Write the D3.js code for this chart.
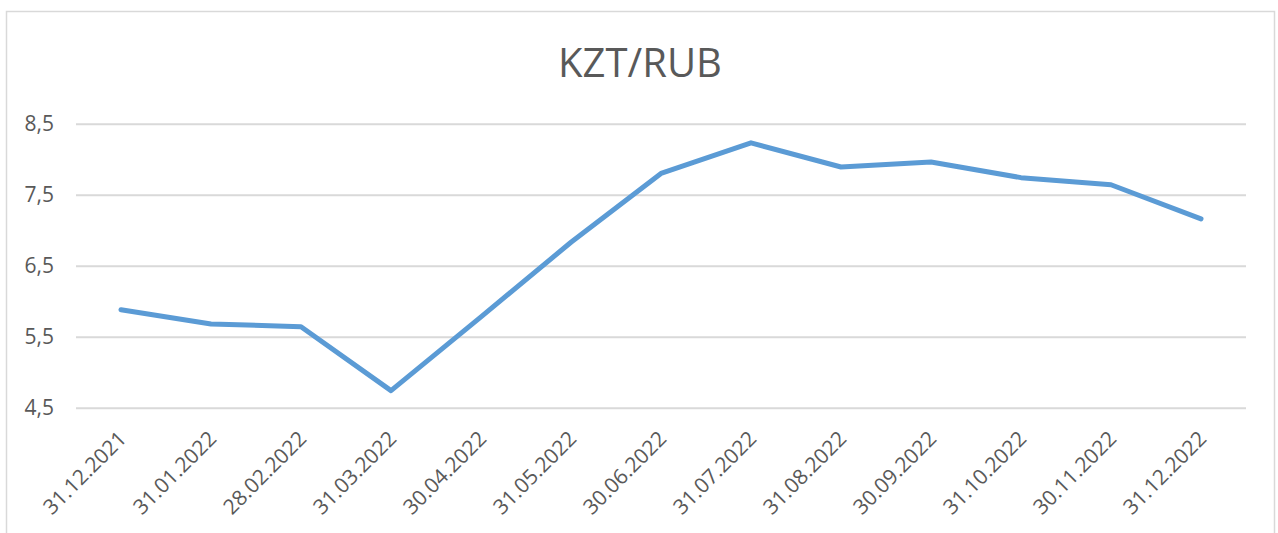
<!DOCTYPE html>
<html>
<head>
<meta charset="utf-8">
<script src="https://cdn.jsdelivr.net/npm/d3@7"></script>
<style>
  body { margin: 0; background: #fff; }
  text { font-family: "Open Sans", sans-serif; fill: #595959; }
</style>
</head>
<body>
<div id="main"></div>
<script>
// chart data
const dates = ["31.12.2021", "31.01.2022", "28.02.2022", "31.03.2022", "30.04.2022", "31.05.2022",
  "30.06.2022", "31.07.2022", "31.08.2022", "30.09.2022", "31.10.2022", "30.11.2022", "31.12.2022"];
const rates = [5.88, 5.68, 5.64, 4.74, 5.78, 6.83, 7.80, 8.23, 7.89, 7.96, 7.74, 7.64, 7.16];
const yTicks = [4.5, 5.5, 6.5, 7.5, 8.5];
const title = "KZT/RUB";

const ctx = { width: 1278, height: 533, left: 76, right: 1246, top: 123.7, bottom: 407.7 };

let svg = d3.select("#main")
  .append("svg")
  .attr("width", ctx.width)
  .attr("height", ctx.height);

// outer chart border (bottom edge falls outside the picture)
svg.append("rect")
  .attr("x", 6.5).attr("y", 11.5)
  .attr("width", 1268).attr("height", 540)
  .attr("fill", "none")
  .attr("stroke", "#d9d9d9")
  .attr("stroke-width", 1.5);

let x = d3.scalePoint().domain(dates).range([ctx.left, ctx.right]).padding(0.5);
let y = d3.scaleLinear().domain([4.5, 8.5]).range([ctx.bottom, ctx.top]);

svg.append("text")
  .attr("x", 640).attr("y", 77)
  .attr("text-anchor", "middle")
  .style("font-size", "40px")
  .text(title);

// gridlines + y labels
let yAxis = svg.append("g")
  .attr("transform", "translate(" + ctx.left + ",0)")
  .call(d3.axisLeft(y).tickValues(yTicks)
    .tickSize(-(ctx.right - ctx.left))
    .tickPadding(22)
    .tickFormat(d => d3.format(".1f")(d).replace(".", ",")));
yAxis.select(".domain").remove();
yAxis.selectAll("line").attr("stroke", "#d9d9d9").attr("stroke-width", 2);
yAxis.selectAll("text")
  .attr("fill", "#595959")
  .style("font-size", "21px")
  .style("font-family", "'Open Sans', sans-serif");

// x labels, rotated
let xAxis = svg.append("g")
  .attr("transform", "translate(0," + ctx.bottom + ")")
  .call(d3.axisBottom(x).tickSize(0).tickPadding(0));
xAxis.select(".domain").remove();
xAxis.selectAll("text")
  .attr("fill", "#595959")
  .style("font-size", "21px")
  .style("font-family", "'Open Sans', sans-serif")
  .attr("text-anchor", "end")
  .attr("dy", "0.35em")
  .attr("transform", "translate(1,27) rotate(-45)");

let line = d3.line()
  .x((d, i) => x(dates[i]))
  .y(d => y(d));

svg.append("path")
  .datum(rates)
  .attr("d", line)
  .attr("fill", "none")
  .attr("stroke", "#5b9bd5")
  .attr("stroke-width", 5)
  .attr("stroke-linejoin", "round")
  .attr("stroke-linecap", "round");
</script>
</body>
</html>
